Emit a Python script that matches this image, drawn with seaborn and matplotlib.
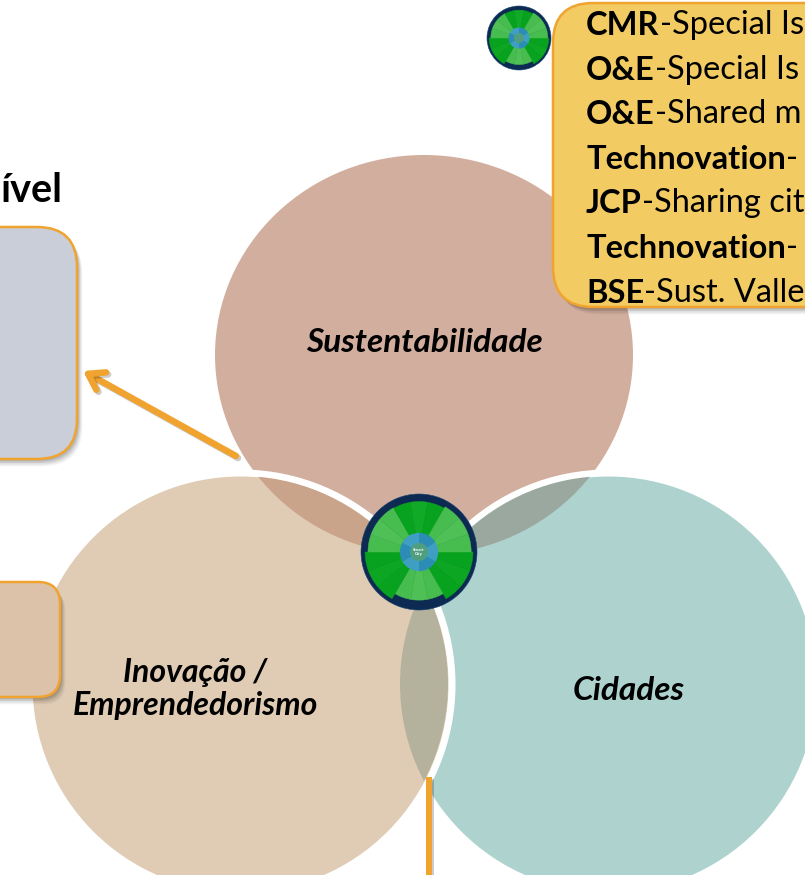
import matplotlib
matplotlib.use("Agg")
import matplotlib.pyplot as plt
import matplotlib.patheffects as pe
from matplotlib.patches import Circle, Ellipse, FancyBboxPatch, RegularPolygon
import seaborn as sns

# shapes of the diagram: the top one is a bit squashed on the slide
circle_names = ["Sustentabilidade", "Cidades", "Inovação /\nEmprendedorismo"]
circle_x = [424, 608, 240]
circle_y = [355, 684, 684]
circle_w = [418, 416, 416]
circle_h = [400, 416, 416]
circle_colors = ["#d2ae9f", "#aed3cf", "#e0ccb5"]
label_y = [342, 690, 689]
label_x = [424, 629, 195]
label_size = [24, 24, 23]

lens_colors = {"top_left": "#c9a48a", "top_right": "#9aa89f", "left_right": "#b4b29c"}

# journals box, text is cut by the slide edge
journals = ["CMR", "O&E", "O&E", "Technovation", "JCP", "Technovation", "BSE"]
titles = ["-Special Is", "-Special Is", "-Shared m", "-", "-Sharing cit", "-", "-Sust. Valle"]

# wheel: six sectors of three stripes, going clockwise from 3 o'clock
sector_deg = [20, 20, 20]
sector_r = [0.93, 0.83, 0.93, 0.88, 0.87, 0.9]
sector_colors = [
    ["#08a31e", "#0ca622", "#08a31e"],
    ["#47bc4f", "#4ec055", "#47bc4f"],
    ["#08a31e", "#0ca622", "#08a31e"],
    ["#47bc4f", "#4ec055", "#47bc4f"],
    ["#08a31e", "#10aa26", "#08a31e"],
    ["#47bc4f", "#4ec055", "#47bc4f"],
]
hex_sizes = [60, 60, 60, 60, 60, 60]
hex_colors = ["#2b8db5", "#3f9fc3", "#2b8db5", "#3f9fc3", "#2b8db5", "#3f9fc3"]

ORANGE = "#f0a32f"
PX = 72 / 100  # points per pixel at dpi 100

sns.set_theme(style="white")
plt.rcParams["font.family"] = ["Lato", "DejaVu Sans"]

fig = plt.figure(figsize=(8.05, 8.75), dpi=100)
ax = fig.add_axes([0, 0, 1, 1])


def rounded_box(x0, y0, x1, y1, radius, fill, z):
    # soft shadow first
    for off, a in [(9, 0.05), (7, 0.07), (5, 0.09), (3, 0.1)]:
        ax.add_patch(FancyBboxPatch((x0 + off * 0.6, y0 + off * 0.8), x1 - x0, y1 - y0,
                                    boxstyle=f"round,pad=0,rounding_size={radius}",
                                    fc="black", ec="none", alpha=a, zorder=z))
    ax.add_patch(FancyBboxPatch((x0, y0), x1 - x0, y1 - y0,
                                boxstyle=f"round,pad=0,rounding_size={radius}",
                                fc=fill, ec=ORANGE, lw=2.5 * PX, zorder=z + 0.1))


def wheel(cx, cy, R, z):
    ax.pie([1], colors=["#0d2b52"], radius=R, center=(cx, cy), frame=True,
           wedgeprops={"zorder": z, "edgecolor": "#17456f", "linewidth": 0.4})
    start = 0
    for rad, cols in zip(sector_r, sector_colors):
        wedges, _ = ax.pie(sector_deg + [300], colors=cols + ["white"], radius=R * rad, center=(cx, cy),
                           startangle=start, frame=True, wedgeprops={"zorder": z + 0.1})
        wedges[-1].set_visible(False)
        for w in wedges[:-1]:
            # same colour edge hides the seams between stripes
            w.set_edgecolor(w.get_facecolor())
            w.set_linewidth(0.3)
        start += 60
    hex_r = R * 0.3
    hexagon = RegularPolygon((cx, cy), 6, radius=hex_r, orientation=3.14159 / 6,
                             fc="#2b8db5", ec="none", zorder=z + 0.2)
    ax.add_patch(hexagon)
    wedges, _ = ax.pie(hex_sizes, colors=hex_colors, radius=hex_r * 1.1, center=(cx, cy),
                       startangle=30, frame=True, wedgeprops={"zorder": z + 0.3, "linewidth": 0})
    for w in wedges:
        w.set_clip_path(hexagon)
    ax.add_patch(Circle((cx, cy), R * 0.155, fc="#4f9e7f", ec="none", zorder=z + 0.4))


# the three shapes, top first, left one over the others
ax.add_patch(Ellipse((circle_x[0], circle_y[0]), circle_w[0], circle_h[0],
                     fc=circle_colors[0], ec="none", zorder=2))
for i in [1, 2]:
    edge = 7
    sns.scatterplot(x=[circle_x[i]], y=[circle_y[i]], s=((circle_w[i] + edge) * PX) ** 2,
                    color=circle_colors[i], edgecolor="white", linewidth=edge * PX,
                    legend=False, ax=ax, zorder=2 + i * 0.1)

# overlaps
for key, a, b in [("top_left", 0, 2), ("top_right", 0, 1), ("left_right", 1, 2)]:
    lens = Ellipse((circle_x[a], circle_y[a]), circle_w[a], circle_h[a],
                   fc=lens_colors[key], ec="none", zorder=3)
    ax.add_patch(lens)
    lens.set_clip_path(Ellipse((circle_x[b], circle_y[b]), circle_w[b], circle_h[b], transform=ax.transData))

for name, x, y, size in zip(circle_names, label_x, label_y, label_size):
    ax.text(x, y, name, ha="center", va="center", fontsize=size, fontweight="bold",
            fontstyle="italic", color="black", linespacing=1.2, zorder=4)

# side boxes, running off the slide on the left
rounded_box(-60, 227, 77, 459, 40, "#c9ced9", 5)
rounded_box(-60, 582, 60, 697, 22, "#dcc2a8", 5)
ax.text(62, 202, "ível", ha="right", va="baseline", fontsize=28.5, fontweight="bold", color="black", zorder=6)

# arrow and vertical line
shadow = [pe.SimpleLineShadow(offset=(1.5, -1.5), shadow_color="black", alpha=0.2), pe.Normal()]
ax.annotate("", xy=(83, 371), xytext=(236, 456), zorder=6,
            arrowprops=dict(arrowstyle="->,head_length=0.9,head_width=0.6", color=ORANGE,
                            lw=6.5 * PX, shrinkA=0, shrinkB=0, path_effects=shadow))
ax.plot([429, 429], [777, 880], color=ORANGE, lw=6 * PX, solid_capstyle="butt", zorder=6, path_effects=shadow)

# journals box
rounded_box(553, 3, 870, 307, 40, "#f2cb63", 5)
for i, (j, t) in enumerate(zip(journals, titles)):
    y = 35 + i * 44.6
    lab = ax.text(586, y, j, fontsize=23.5, fontweight="bold", color="black", va="baseline", zorder=6)
    ax.annotate(t, xy=(1, 0), xycoords=lab, va="bottom", fontsize=23.5, color="black",
                annotation_clip=False, zorder=6)

# wheels
wheel(419, 552, 58, 7)
wheel(519, 38, 32, 7)
ax.text(419, 552, "Smart\nCity", ha="center", va="center", fontsize=3.2, fontweight="bold",
        color="white", linespacing=1, zorder=8)

ax.set_xlim(0, 805)
ax.set_ylim(875, 0)
ax.axis("off")
fig.savefig("out.png", dpi=100)
